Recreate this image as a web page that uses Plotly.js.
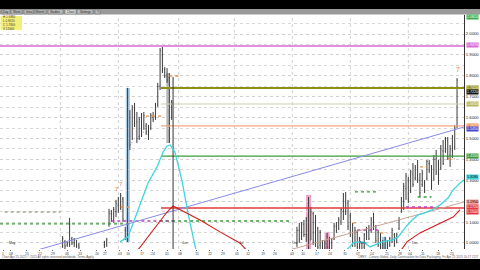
<!DOCTYPE html>
<html><head><meta charset="utf-8">
<script src="https://cdn.plot.ly/plotly-3.0.1.min.js"></script>
<style>html,body{margin:0;padding:0;background:#fff}#c{width:480px;height:270px}</style>
</head><body><div id="c"></div>
<script>
// ---- data (bar slot index, prices) ----
const barX = [27,28,29,30,31,32,33,34,45,46,47,48,49,50,51,52,53,54,55,56,57,58,59,60,61,62,63,64,65,66,67,68,69,70,71,72,73,74,
 128,129,130,131,132,133,134,135,136,137,138,139,140,141,142,143,144,145,146,147,148,149,150,151,152,153,154,155,156,157,158,159,160,161,162,163,164,165,166,167,168,169,170,171,172,173,174,175,176,177,178,179,180,181,182,183,184,185,186,187,188,189,190,191,192,193,194,195,196,197];
const barHigh = [1.033,1.014,1.005,1.120,1.029,1.024,1.014,1.000,1.010,1.024,1.163,1.158,1.172,1.206,1.220,1.239,1.220,1.077,1.742,1.636,1.660,1.670,1.627,1.603,1.622,1.627,1.574,1.565,1.622,1.627,1.670,1.766,1.933,1.938,1.842,1.837,1.813,1.684,
 1.077,1.096,1.100,1.110,1.124,1.220,1.172,1.148,1.134,1.077,1.062,1.014,1.014,1.048,1.029,1.024,1.096,1.100,1.124,1.167,1.239,1.244,1.206,1.144,1.096,1.077,1.062,1.029,1.005,1.048,1.077,1.086,1.124,1.144,1.086,1.062,1.048,1.014,1.029,1.014,1.029,1.072,1.048,1.048,1.124,1.220,1.287,1.335,1.316,1.349,1.383,1.373,1.397,1.335,1.349,1.301,1.397,1.397,1.373,1.421,1.445,1.397,1.469,1.493,1.507,1.507,1.469,1.517,1.565,1.789];
const barLow = [0.976,0.971,0.981,0.981,0.990,0.981,0.976,0.971,0.976,0.981,1.077,1.100,1.096,1.124,1.144,1.158,1.100,1.014,1.005,1.445,1.493,1.555,1.478,1.493,1.507,1.541,1.517,1.493,1.541,1.579,1.589,1.651,1.732,1.813,1.789,1.766,1.478,1.589,
 0.981,1.000,1.014,1.029,1.005,0.967,1.014,0.990,0.981,0.967,0.967,0.957,0.952,0.967,0.957,0.967,1.014,1.048,1.062,1.086,1.110,1.134,1.062,1.029,0.981,0.981,0.967,0.952,0.952,0.967,1.014,1.014,1.048,1.062,1.000,0.981,0.967,0.952,0.967,0.957,0.981,1.000,0.981,1.000,1.062,1.144,1.158,1.206,1.191,1.239,1.268,1.301,1.287,1.220,1.268,1.239,1.301,1.335,1.254,1.301,1.325,1.278,1.349,1.373,1.431,1.397,1.364,1.407,1.445,1.550];
const barOpen = [1.000,1.005,0.990,1.010,1.020,1.000,1.005,0.990,0.990,1.000,1.090,1.140,1.110,1.150,1.180,1.170,1.210,1.060,1.030,1.600,1.480,1.640,1.580,1.510,1.580,1.530,1.560,1.520,1.550,1.600,1.600,1.660,1.750,1.900,1.830,1.800,1.790,1.600,
 1.000,1.060,1.030,1.090,1.040,1.100,1.010,1.140,1.010,1.070,0.990,1.000,0.970,1.030,0.980,1.000,1.020,1.080,1.070,1.100,1.150,1.230,1.190,1.130,1.090,1.000,1.050,0.980,1.000,0.980,1.030,1.070,1.060,1.120,1.080,1.050,0.990,1.000,0.970,1.010,0.990,1.010,1.040,1.000,1.070,1.150,1.200,1.260,1.300,1.250,1.330,1.310,1.360,1.300,1.280,1.290,1.310,1.380,1.360,1.300,1.400,1.380,1.360,1.440,1.440,1.490,1.420,1.440,1.460,1.560];
const barClose = [1.020,0.985,1.000,1.090,1.000,1.015,0.985,0.980,1.000,1.015,1.140,1.110,1.160,1.190,1.160,1.225,1.110,1.020,1.700,1.470,1.640,1.570,1.500,1.590,1.520,1.610,1.530,1.550,1.610,1.590,1.660,1.750,1.920,1.830,1.800,1.780,1.500,1.670,
 1.060,1.020,1.090,1.040,1.110,1.000,1.150,1.000,1.110,0.980,1.050,0.970,1.000,0.980,1.010,1.020,1.080,1.060,1.110,1.160,1.230,1.150,1.080,1.040,1.000,1.060,0.980,1.010,0.960,1.040,1.070,1.020,1.110,1.070,1.010,0.990,1.030,0.960,1.020,0.970,1.020,1.060,0.990,1.040,1.110,1.210,1.270,1.320,1.210,1.340,1.280,1.360,1.300,1.240,1.330,1.250,1.390,1.350,1.270,1.400,1.340,1.300,1.450,1.380,1.500,1.410,1.450,1.510,1.550,1.780];

// horizontal levels
const levelPrice = [1.943, 1.742, 1.665, 1.560, 1.416, 1.167];
const levelStart = [0, 69.4, 69.4, 69.4, 69.4, 69.4];
// dotted levels: price, start, end
const dotPrice = [1.148, 1.091, 1.105, 1.105, 1.172, 1.607, 1.799, 1.244, 1.096, 1.062, 1.048, 1.220, 1.172, 1.364, 1.402];
const dotStart = [2, 0, 69, 48, 52, 63, 73, 153, 152, 154, 164, 180, 175, 181, 193];
const dotEnd   = [26, 56, 125, 75, 56, 70, 78, 163, 154, 163, 167, 186, 187, 184, 196];

// trend lines
const trendX = [16.4, 200];
const trendY = [0.967, 1.555];
const trend2X = [125, 200];
const trend2Y = [0.967, 1.196];

// cyan curves
const cyan1X = [51.7,55.2,59.5,63.8,67.7,70.3,72,73.3,75.4,78.4,81,84,84.9];
const cyan1Y = [1.005,1.029,1.158,1.287,1.364,1.435,1.464,1.469,1.435,1.301,1.144,0.981,0.943];
const cyan2X = [148.7,152.2,154.3,157.3,159.5,161.6,164.7,169,171.6,174.6,177.6,180.2,183.2,186.2,189.7,193.1,195.3,198.3,200];
const cyan2Y = [0.957,1.000,1.005,1.000,0.981,0.990,1.005,1.014,1.029,1.072,1.110,1.134,1.144,1.158,1.182,1.215,1.254,1.287,1.301];
// red curves
const red1X = [59.5,63.8,68.1,72,74.6,79.7,86.2,94.8,103.4,106.9];
const red1Y = [0.967,1.029,1.086,1.148,1.177,1.148,1.110,1.053,1.000,0.957];
const red2X = [172.4,175.4,181,186.6,190.9,195.3,198.3];
const red2Y = [0.957,1.005,1.048,1.077,1.100,1.124,1.158];

// highlight bands: center index, low, high
const bandX  = [55.1, 72.3, 133, 141, 165.5];
const bandLo = [1.005, 1.478, 0.952, 0.957, 0.967];
const bandHi = [1.742, 1.813, 1.230, 1.053, 1.029];

// marker line
const vLineX = 74.6;
const vLineTop = 1.794;

// x ticks
const xTickVals = [1.3,4.7,11.6,17.2,22.8,28.9,34.5,41.8,45.3,51.7,55.2,61.2,65.9,72,77.6,84.9,90.5,96.1,102.2,106.9,113.4,118.5,125.9,130.6,136.6,142.2,148.7,154.3,160.3,166.8,172.4,176.7,182.3,188.8,194.8];
const xTickText = ["1","08","15","22","29","06","13","20","27","03","10","17","24","01","08","15","22","29","05","12","19","26","03","10","17","24","31","07","14","21","28","04","11","18","25"];
const monthX = [3, 77.6, 102.2, 125, 154.3, 176.7];
const monthText = ["May","Jun","Jul","Oct","Nov","Dec"];

// right-axis price boxes
const boxPrice = [2.081, 1.947, 1.742, 1.722, 1.665, 1.560, 1.545, 1.416, 1.318, 1.195, 1.172, 1.150];
const markerX = [50.5, 52, 197.2];
const markerY = [1.258, 1.282, 1.830];

// ---- traces ----
const traces = [];
const levelColors = ['#d66ad6','#8f8f14','#cfcfb0','#f4a582','#3b9b3b','#e23b3b'];
const levelWidths = [1.5, 2, 1.2, 1.2, 1.2, 1.5];
levelPrice.forEach((p,i)=>traces.push({type:'scatter',mode:'lines',x:[levelStart[i],200],y:[p,p],
  line:{color:levelColors[i],width:levelWidths[i]},hoverinfo:'skip',showlegend:false}));
const dotColors = ['#a8a88a','#3a9a3a','#3a9a3a','#c040c0','#e6904a','#e6904a','#e6904a','#3a9a3a','#e6904a','#c040c0','#e6904a','#3a9a3a','#c040c0','#e6904a','#e6904a'];
dotPrice.forEach((p,i)=>traces.push({type:'scatter',mode:'lines',x:[dotStart[i],dotEnd[i]],y:[p,p],
  line:{color:dotColors[i],width:1.3,dash:'dot'},hoverinfo:'skip',showlegend:false}));
traces.push({type:'scatter',mode:'lines',x:trendX,y:trendY,line:{color:'#8a8ae6',width:1},showlegend:false,hoverinfo:'skip'});
traces.push({type:'scatter',mode:'lines',x:trend2X,y:trend2Y,line:{color:'#c9a393',width:1},showlegend:false,hoverinfo:'skip'});
traces.push({type:'scatter',mode:'lines',x:[vLineX,vLineX],y:[vLineTop,0.9],line:{color:'#333',width:1},showlegend:false,hoverinfo:'skip'});
traces.push({type:'scatter',mode:'lines',x:cyan1X,y:cyan1Y,line:{color:'#3fd6e0',width:1.3},showlegend:false,hoverinfo:'skip'});
traces.push({type:'scatter',mode:'lines',x:cyan2X,y:cyan2Y,line:{color:'#3fd6e0',width:1.3},showlegend:false,hoverinfo:'skip'});
traces.push({type:'scatter',mode:'lines',x:red1X,y:red1Y,line:{color:'#d41c1c',width:1.1},showlegend:false,hoverinfo:'skip'});
traces.push({type:'scatter',mode:'lines',x:red2X,y:red2Y,line:{color:'#d41c1c',width:1.1},showlegend:false,hoverinfo:'skip'});
traces.push({type:'ohlc',x:barX,open:barOpen,high:barHigh,low:barLow,close:barClose,tickwidth:0.25,
  increasing:{line:{color:'#3a3a3a',width:1}},decreasing:{line:{color:'#3a3a3a',width:1}},showlegend:false,hoverinfo:'skip'});

// ---- shapes ----
const px = 1/234; // one pixel in paper-y units
const pxX = 1/464;
const shapes = [];
[26,51,77,101,126,151,176].forEach(v=>shapes.push({type:'line',xref:'x',yref:'paper',x0:v,x1:v,y0:0,y1:1,layer:'below',line:{color:'#d0d0d0',width:1,dash:'dot'}}));
const bandColors = ['rgba(150,195,230,0.85)','rgba(150,150,150,0.7)','rgba(240,140,190,0.8)','rgba(240,140,190,0.8)','rgba(150,195,230,0.85)'];
const bandHalf = [0.9,0.6,1.1,1.1,1.0];
bandX.forEach((c,i)=>shapes.push({type:'rect',xref:'x',yref:'y',x0:c-bandHalf[i],x1:c+bandHalf[i],y0:bandLo[i],y1:bandHi[i],layer:'below',line:{width:0},fillcolor:bandColors[i]}));
// chrome
shapes.push({type:'rect',xref:'paper',yref:'paper',x0:-0.01,x1:1.05,y0:1+6*px,y1:1+16*px,line:{width:0},fillcolor:'#000'});
shapes.push({type:'rect',xref:'paper',yref:'paper',x0:-0.01,x1:1.05,y0:1+0.6*px,y1:1+6*px,line:{width:0},fillcolor:'#9a9a9a'});
const tabL=[2,11,24,35,48,65,77,95], tabR=[10,22,33,46,63,76,93,100];
tabL.forEach((l,i)=>shapes.push({type:'rect',xref:'paper',yref:'paper',x0:l*pxX,x1:tabR[i]*pxX,y0:1+1*px,y1:1+5.6*px,line:{color:'#666',width:0.5},fillcolor:i===5?'#d8d8d8':'#b8b8b8'}));
shapes.push({type:'rect',xref:'paper',yref:'paper',x0:0.5*pxX,x1:22*pxX,y0:1-15*px,y1:1-1*px,line:{width:0},fillcolor:'#f3f07a'});
shapes.push({type:'rect',xref:'paper',yref:'paper',x0:-0.01,x1:1.05,y0:-22*px,y1:-10*px,line:{width:0},fillcolor:'#000'});

// ---- annotations ----
const ann = [];
const tabText=['Day','Week','Intra','Month','Studies','Chart','Settings','?'];
tabL.forEach((l,i)=>ann.push({xref:'paper',yref:'paper',x:(l+tabR[i])/2*pxX,y:1+3.3*px,text:tabText[i],showarrow:false,font:{size:3,color:'#222',family:'Arial'},xanchor:'center',yanchor:'middle'}));
ann.push({xref:'paper',yref:'paper',x:1*pxX,y:1-8*px,text:'H 1.9380<br>L 0.9520<br>C 1.7800<br>V 12000',showarrow:false,align:'left',xanchor:'left',yanchor:'middle',font:{size:3,color:'#333',family:'Arial'}});
const boxColors=['#3cae4a','#d66ad6','#8f8f14','#111','#b5b558','#f08a5a','#4848c8','#3b9b3b','#3fd6e0','#f0a0a0','#e23b3b','#e23b3b'];
boxPrice.forEach((p,i)=>ann.push({xref:'paper',yref:'y',x:1+2*pxX,y:p,text:p.toFixed(4),showarrow:false,xanchor:'left',yanchor:'middle',
  bgcolor:boxColors[i],borderpad:0,font:{size:3.6,color:(i===8||i===9)?'#000':'#fff',family:'Arial'}}));
monthX.forEach((m,i)=>ann.push({xref:'x',yref:'paper',x:m,y:2*px,text:monthText[i],showarrow:false,xanchor:'left',yanchor:'bottom',font:{size:3.5,color:'#333',family:'Arial'}}));
markerX.forEach((m,i)=>ann.push({xref:'x',yref:'y',x:m,y:markerY[i],text:'7',showarrow:false,font:{size:i===2?7:6,color:'#f07a40',family:'Arial'}}));
ann.push({xref:'paper',yref:'paper',x:0,y:-8.3*px,text:'Chart Apr 25 2025 \u00a9 2025 All rights reserved worldwide. Terms Apply.',showarrow:false,xanchor:'left',yanchor:'middle',font:{size:3,color:'#555',family:'Arial'}});
ann.push({xref:'paper',yref:'paper',x:1.034,y:-8.3*px,text:'CRNY - Canary Global, Daily Continuation for Data Packaging, Fri Apr 25 2025 10:17 CDT',showarrow:false,xanchor:'right',yanchor:'middle',font:{size:3,color:'#555',family:'Arial'}});

const layout = {
  width:480,height:270,margin:{l:0,r:16,t:15,b:21},
  paper_bgcolor:'#fff',plot_bgcolor:'#fff',showlegend:false,
  xaxis:{range:[0,200],tickmode:'array',tickvals:xTickVals,ticktext:xTickText,showgrid:false,zeroline:false,showline:false,
    ticks:'outside',ticklen:1,tickcolor:'#666',tickfont:{size:3.3,color:'#333',family:'Arial'},rangeslider:{visible:false},fixedrange:true},
  yaxis:{side:'right',range:[0.971,2.091],tick0:1,dtick:0.1,tickformat:'.4f',showgrid:true,gridcolor:'#d0d0d0',griddash:'dot',
    minor:{dtick:0.05,showgrid:true,gridcolor:'#d8d8d8',griddash:'dot'},
    showline:true,linecolor:'#333',linewidth:1,zeroline:false,ticks:'',tickfont:{size:4.2,color:'#222',family:'Arial'},fixedrange:true},
  shapes:shapes,annotations:ann
};
Plotly.newPlot('c',traces,layout,{staticPlot:true,displayModeBar:false});
</script></body></html>
